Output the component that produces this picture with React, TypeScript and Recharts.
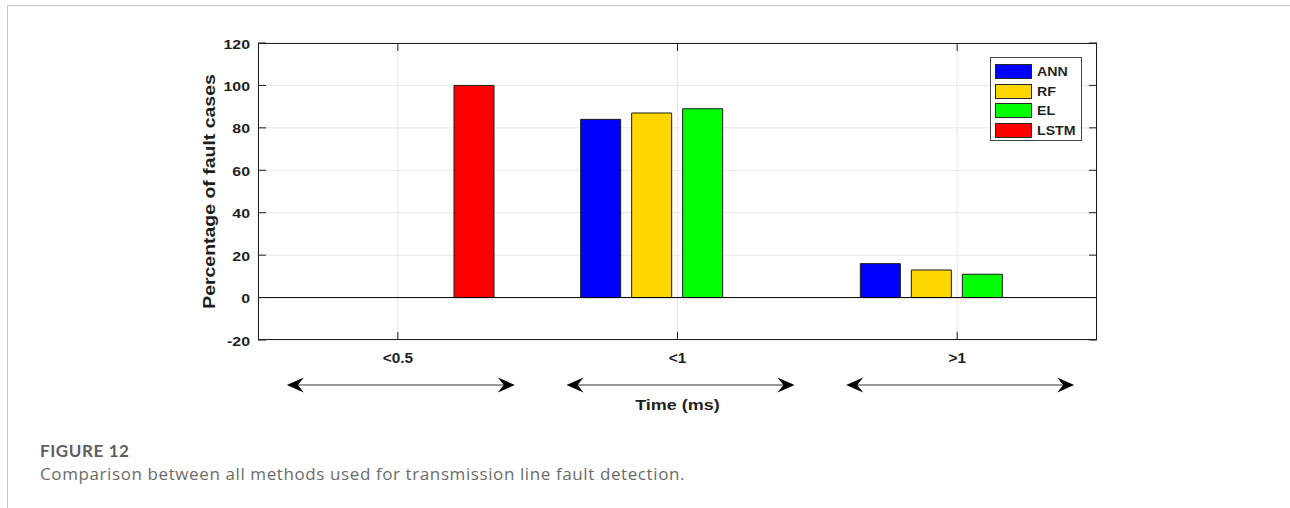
import React from "react"
import {
  BarChart,
  Bar,
  XAxis,
  YAxis,
  CartesianGrid,
  ReferenceLine,
  Legend,
} from "recharts"

// Share of fault cases per detection-time bucket, one list per method
const TIME_BUCKETS = ["<0.5", "<1", ">1"]
const ANN = [0, 84, 16]
const RF = [0, 87, 13]
const EL = [0, 89, 11]
const LSTM = [100, 0, 0]
const Y_TICKS = [-20, 0, 20, 40, 60, 80, 100, 120]

const SERIES = [
  { key: "ANN", values: ANN, color: "#0000ff" },
  { key: "RF", values: RF, color: "#ffd700" },
  { key: "EL", values: EL, color: "#00ff00" },
  { key: "LSTM", values: LSTM, color: "#ff0000" },
]

const data = TIME_BUCKETS.map((time, i) => {
  const row: Record<string, string | number> = { time }
  for (const s of SERIES) row[s.key] = s.values[i]
  return row
})

// plot box in page pixels
const PLOT = { left: 258, top: 43, right: 1097, bottom: 340 }
const TICK = 8
const INK = "#1f1f1f"
const FONT = "'Liberation Sans', Arial, sans-serif"

// bold Helvetica-ish text, stretched a little along its run
function WideText({ x, y, size, k = 1.15, anchor = "middle", rotate = false, children }: any) {
  const t = `translate(${x},${y})${rotate ? " rotate(-90)" : ""} scale(${k},1)`
  return (
    <text
      transform={t}
      fontFamily={FONT}
      fontWeight="bold"
      fontSize={size}
      textAnchor={anchor}
      fill={INK}
    >
      {children}
    </text>
  )
}

function DoubleArrow({ cx, y, half }: { cx: number; y: number; half: number }) {
  const l = cx - half
  const r = cx + half
  return (
    <g>
      <line x1={l + 8} x2={r - 8} y1={y} y2={y} stroke="#333" strokeWidth={1.2} />
      <path d={`M${l},${y} L${l + 17},${y - 7.5} L${l + 11},${y} L${l + 17},${y + 7.5} Z`} fill="#000" />
      <path d={`M${r},${y} L${r - 17},${y - 7.5} L${r - 11},${y} L${r - 17},${y + 7.5} Z`} fill="#000" />
    </g>
  )
}

function PercentTick({ x, y, payload }: any) {
  return (
    <g>
      <line x1={PLOT.left} x2={PLOT.left + TICK} y1={y} y2={y} stroke={INK} />
      <line x1={PLOT.right - TICK} x2={PLOT.right} y1={y} y2={y} stroke={INK} />
      <WideText x={x} y={y + 5.5} size={13.5} k={1.18} anchor="end">
        {payload.value}
      </WideText>
    </g>
  )
}

function TimeTick({ x, y, payload }: any) {
  return (
    <g>
      <line x1={x} x2={x} y1={PLOT.bottom} y2={PLOT.bottom - TICK} stroke={INK} />
      <line x1={x} x2={x} y1={PLOT.top} y2={PLOT.top + TICK} stroke={INK} />
      <WideText x={x} y={y + 23} size={14} k={1.1}>
        {payload.value}
      </WideText>
      <DoubleArrow cx={x + 3} y={y + 45} half={114} />
    </g>
  )
}

function MethodLegend() {
  return (
    <div
      style={{
        width: 92,
        height: 84,
        boxSizing: "border-box",
        border: "1px solid #444",
        background: "#fff",
        padding: "4px 0 0 4px",
      }}
    >
      {SERIES.map((s) => (
        <div key={s.key} style={{ display: "flex", alignItems: "center", height: 19.5 }}>
          <span
            style={{
              width: 37,
              height: 15,
              boxSizing: "border-box",
              background: s.color,
              border: "1px solid #262626",
            }}
          />
          <span
            style={{
              marginLeft: 5,
              fontFamily: FONT,
              fontWeight: "bold",
              fontSize: 13,
              color: INK,
              transform: "scaleX(1.09)",
              transformOrigin: "left center",
              lineHeight: "15px",
            }}
          >
            {s.key}
          </span>
        </div>
      ))}
    </div>
  )
}

export default function App() {
  return (
    <div
      style={{
        position: "absolute",
        left: 0,
        top: 0,
        width: 1290,
        height: 508,
        background: "#fff",
        overflow: "hidden",
      }}
    >
      {/* page frame */}
      <div
        style={{
          position: "absolute",
          left: 7,
          top: 5,
          right: 0,
          bottom: 0,
          borderTop: "1px solid #c4c4c4",
          borderLeft: "1px solid #c4c4c4",
        }}
      />

      <BarChart
        width={1290}
        height={508}
        data={data}
        margin={{ top: 43, right: 193, bottom: 92, left: 198 }}
        barSize={40}
        barGap={11}
      >
        <CartesianGrid stroke="#e6e6e6" strokeWidth={1} />
        <XAxis
          dataKey="time"
          height={76}
          interval={0}
          axisLine={false}
          tickLine={false}
          tickSize={0}
          tickMargin={0}
          tick={<TimeTick />}
          label={{
            content: ({ viewBox }: any) => (
              <WideText x={viewBox.x + viewBox.width / 2} y={viewBox.y + 70} size={15} k={1.2}>
                Time (ms)
              </WideText>
            ),
          }}
        />
        <YAxis
          type="number"
          width={60}
          domain={[-20, 120]}
          ticks={Y_TICKS}
          interval={0}
          axisLine={false}
          tickLine={false}
          tickSize={0}
          tickMargin={8}
          tick={<PercentTick />}
          label={{
            content: ({ viewBox }: any) => (
              <WideText
                x={viewBox.x + 17}
                y={viewBox.y + viewBox.height / 2}
                size={16.5}
                k={1.18}
                rotate
              >
                Percentage of fault cases
              </WideText>
            ),
          }}
        />
        <ReferenceLine y={0} stroke="#000" strokeWidth={1} />
        {SERIES.map((s) => (
          <Bar
            key={s.key}
            dataKey={s.key}
            fill={s.color}
            stroke="#1a1a1a"
            strokeWidth={1}
            isAnimationActive={false}
          />
        ))}
        <Legend
          layout="horizontal"
          verticalAlign="middle"
          align="center"
          content={<MethodLegend />}
          wrapperStyle={{ left: 990, top: 57, width: 92, height: 84 }}
        />
      </BarChart>

      {/* axes box */}
      <div
        style={{
          position: "absolute",
          left: PLOT.left,
          top: PLOT.top,
          width: PLOT.right - PLOT.left,
          height: PLOT.bottom - PLOT.top,
          boxSizing: "border-box",
          border: `1px solid ${INK}`,
          pointerEvents: "none",
        }}
      />

      <div
        style={{
          position: "absolute",
          left: 40,
          top: 441,
          fontFamily: "Lato, 'Open Sans', sans-serif",
          fontWeight: "bold",
          fontSize: 17,
          letterSpacing: 0.6,
          color: "#5e5e5e",
          lineHeight: "20px",
        }}
      >
        FIGURE 12
      </div>
      <div
        style={{
          position: "absolute",
          left: 40,
          top: 463,
          fontFamily: "'Open Sans', Lato, sans-serif",
          fontSize: 17,
          letterSpacing: 0.6,
          color: "#6b6b6b",
          lineHeight: "22px",
        }}
      >
        Comparison between all methods used for transmission line fault detection.
      </div>
    </div>
  )
}
